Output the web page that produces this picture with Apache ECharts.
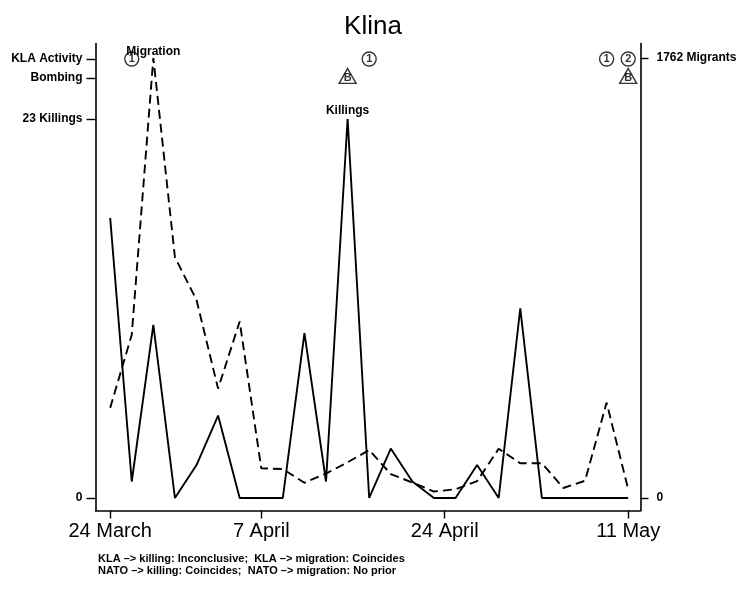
<!DOCTYPE html>
<html>
<head>
<meta charset="utf-8">
<script src="https://cdn.jsdelivr.net/npm/echarts@6/dist/echarts.min.js"></script>
<style>
html,body{margin:0;padding:0;background:#fff;}
#chart{width:754px;height:590px;}
</style>
</head>
<body>
<div id="chart"></div>
<script>
// Days since 24 March (2-day steps)
const days = [0, 2, 4, 6, 8, 10, 12, 14, 16, 18, 20, 22, 24, 26, 28, 30, 32, 34, 36, 38, 40, 42, 44, 46, 48];
// Killings (left axis)
const killings = [17, 1, 10.5, 0, 2, 5, 0, 0, 0, 10, 1, 23, 0, 3, 1, 0, 0, 2, 0, 11.5, 0, 0, 0, 0, 0];
// Migrants (right axis)
const migrants = [361, 654, 1762, 964, 793, 438, 707, 119, 116, 61, 98, 143, 192, 96, 62, 26, 35, 68, 197, 139, 139, 40, 69, 382, 35];

// X tick labels
const xTickDays = [0, 14, 31, 48];
const xTickLabels = ['24 March', '7 April', '24 April', '11 May'];

// Left axis ticks
const leftTickValues = [0, 23, 25.49, 26.64];
const leftTickLabels = ['0', '23 Killings', 'Bombing', 'KLA Activity'];

// Right axis ticks
const rightTickValues = [0, 1762];
const rightTickLabels = ['0', '1762 Migrants'];

// Event markers
const klaDays = [2, 24, 46, 48];
const klaLabels = ['1', '1', '1', '2'];
const natoDays = [22, 48];
const natoLabels = ['B', 'B'];
const klaLevel = 26.64;
const bombLevel = 25.49;

const FONT = 'Liberation Sans, Arial, sans-serif';

function lookup(vals, labels, v) {
  for (let i = 0; i < vals.length; i++) if (Math.abs(vals[i] - v) < 1e-6) return labels[i];
  return '';
}

const chart = echarts.init(document.getElementById('chart'), null, {renderer: 'canvas'});

const option = {
  animation: false,
  backgroundColor: '#fff',
  title: {
    text: 'Klina', left: 368, top: 9, textAlign: 'center',
    textStyle: {fontFamily: FONT, fontSize: 26, fontWeight: 'normal', color: '#000'}
  },
  grid: {left: 95.5, right: 113.5, top: 43.5, bottom: 79.5, containLabel: false},
  xAxis: {
    type: 'value', min: -1.36, max: 49.14,
    axisLine: {show: true, onZero: false, lineStyle: {color: '#000', width: 1.6}},
    axisTick: {show: true, customValues: xTickDays, length: 8, lineStyle: {color: '#000', width: 1.4}},
    axisLabel: {
      show: true, customValues: xTickDays, margin: 11,
      formatter: v => lookup(xTickDays, xTickLabels, v),
      fontFamily: FONT, fontSize: 20, color: '#000'
    },
    splitLine: {show: false}
  },
  yAxis: [
    {
      type: 'value', position: 'left', min: -0.76, max: 27.58,
      axisLine: {show: true, onZero: false, lineStyle: {color: '#000', width: 1.6}},
      axisTick: {show: true, customValues: leftTickValues, length: 9, lineStyle: {color: '#000', width: 1.4}},
      axisLabel: {
        show: true, customValues: leftTickValues, margin: 13,
        formatter: v => lookup(leftTickValues, leftTickLabels, v),
        fontFamily: FONT, fontSize: 12, fontWeight: 'bold', color: '#000'
      },
      splitLine: {show: false}
    },
    {
      type: 'value', position: 'right', min: -50, max: 1820,
      axisLine: {show: true, onZero: false, lineStyle: {color: '#000', width: 1.6}},
      axisTick: {show: true, customValues: rightTickValues, length: 8, lineStyle: {color: '#000', width: 1.4}},
      axisLabel: {
        show: true, customValues: rightTickValues, margin: 16,
        formatter: v => lookup(rightTickValues, rightTickLabels, v),
        fontFamily: FONT, fontSize: 12, fontWeight: 'bold', color: '#000'
      },
      splitLine: {show: false}
    }
  ],
  series: [
    {
      name: 'Killings', type: 'line', yAxisIndex: 0,
      data: days.map((d, i) => [d, killings[i]]),
      symbol: 'none', lineStyle: {color: '#000', width: 1.9}, z: 3,
      markPoint: {
        symbol: 'circle', symbolSize: 1, itemStyle: {color: 'rgba(0,0,0,0)'},
        data: [{type: 'max', valueIndex: 1}],
        label: {show: true, position: 'top', distance: 2, formatter: 'Killings',
          fontFamily: FONT, fontSize: 12, fontWeight: 'bold', color: '#000'}
      }
    },
    {
      name: 'Migrants', type: 'line', yAxisIndex: 1,
      data: days.map((d, i) => [d, migrants[i]]),
      symbol: 'none', lineStyle: {color: '#000', width: 1.9, type: [9, 5]}, z: 3,
      markPoint: {
        symbol: 'circle', symbolSize: 1, itemStyle: {color: 'rgba(0,0,0,0)'},
        data: [{type: 'max', valueIndex: 1}],
        label: {show: true, position: 'top', distance: 0, formatter: 'Migration',
          fontFamily: FONT, fontSize: 12, fontWeight: 'bold', color: '#000'}
      }
    },
    {
      name: 'KLA Activity', type: 'scatter', yAxisIndex: 0,
      data: klaDays.map((d, i) => ({value: [d, klaLevel], label: {formatter: klaLabels[i]}})),
      symbol: 'circle', symbolSize: 14,
      itemStyle: {color: 'rgba(255,255,255,0)', borderColor: '#000', borderWidth: 1.4},
      label: {show: true, position: 'inside', fontFamily: FONT, fontSize: 11, fontWeight: 'bold', color: '#000'},
      z: 4
    },
    {
      name: 'Bombing', type: 'scatter', yAxisIndex: 0,
      data: natoDays.map((d, i) => ({value: [d, bombLevel], label: {formatter: natoLabels[i]}})),
      symbol: 'triangle', symbolSize: [17, 15], symbolOffset: [0, -2],
      itemStyle: {color: 'rgba(255,255,255,0)', borderColor: '#000', borderWidth: 1.4},
      label: {show: true, position: 'inside', offset: [0, 2], fontFamily: FONT, fontSize: 11, fontWeight: 'bold', color: '#000'},
      z: 4
    }
  ],
  graphic: [
    {
      type: 'text', x: 98, y: 565, silent: true,
      style: {
        text: 'KLA \u2013> killing: Inconclusive;  KLA \u2013> migration: Coincides\nNATO \u2013> killing: Coincides;  NATO \u2013> migration: No prior',
        font: 'bold 11px ' + FONT, fill: '#000', lineHeight: 11.5,
        textVerticalAlign: 'middle'
      }
    }
  ]
};

chart.setOption(option);
</script>
</body>
</html>
